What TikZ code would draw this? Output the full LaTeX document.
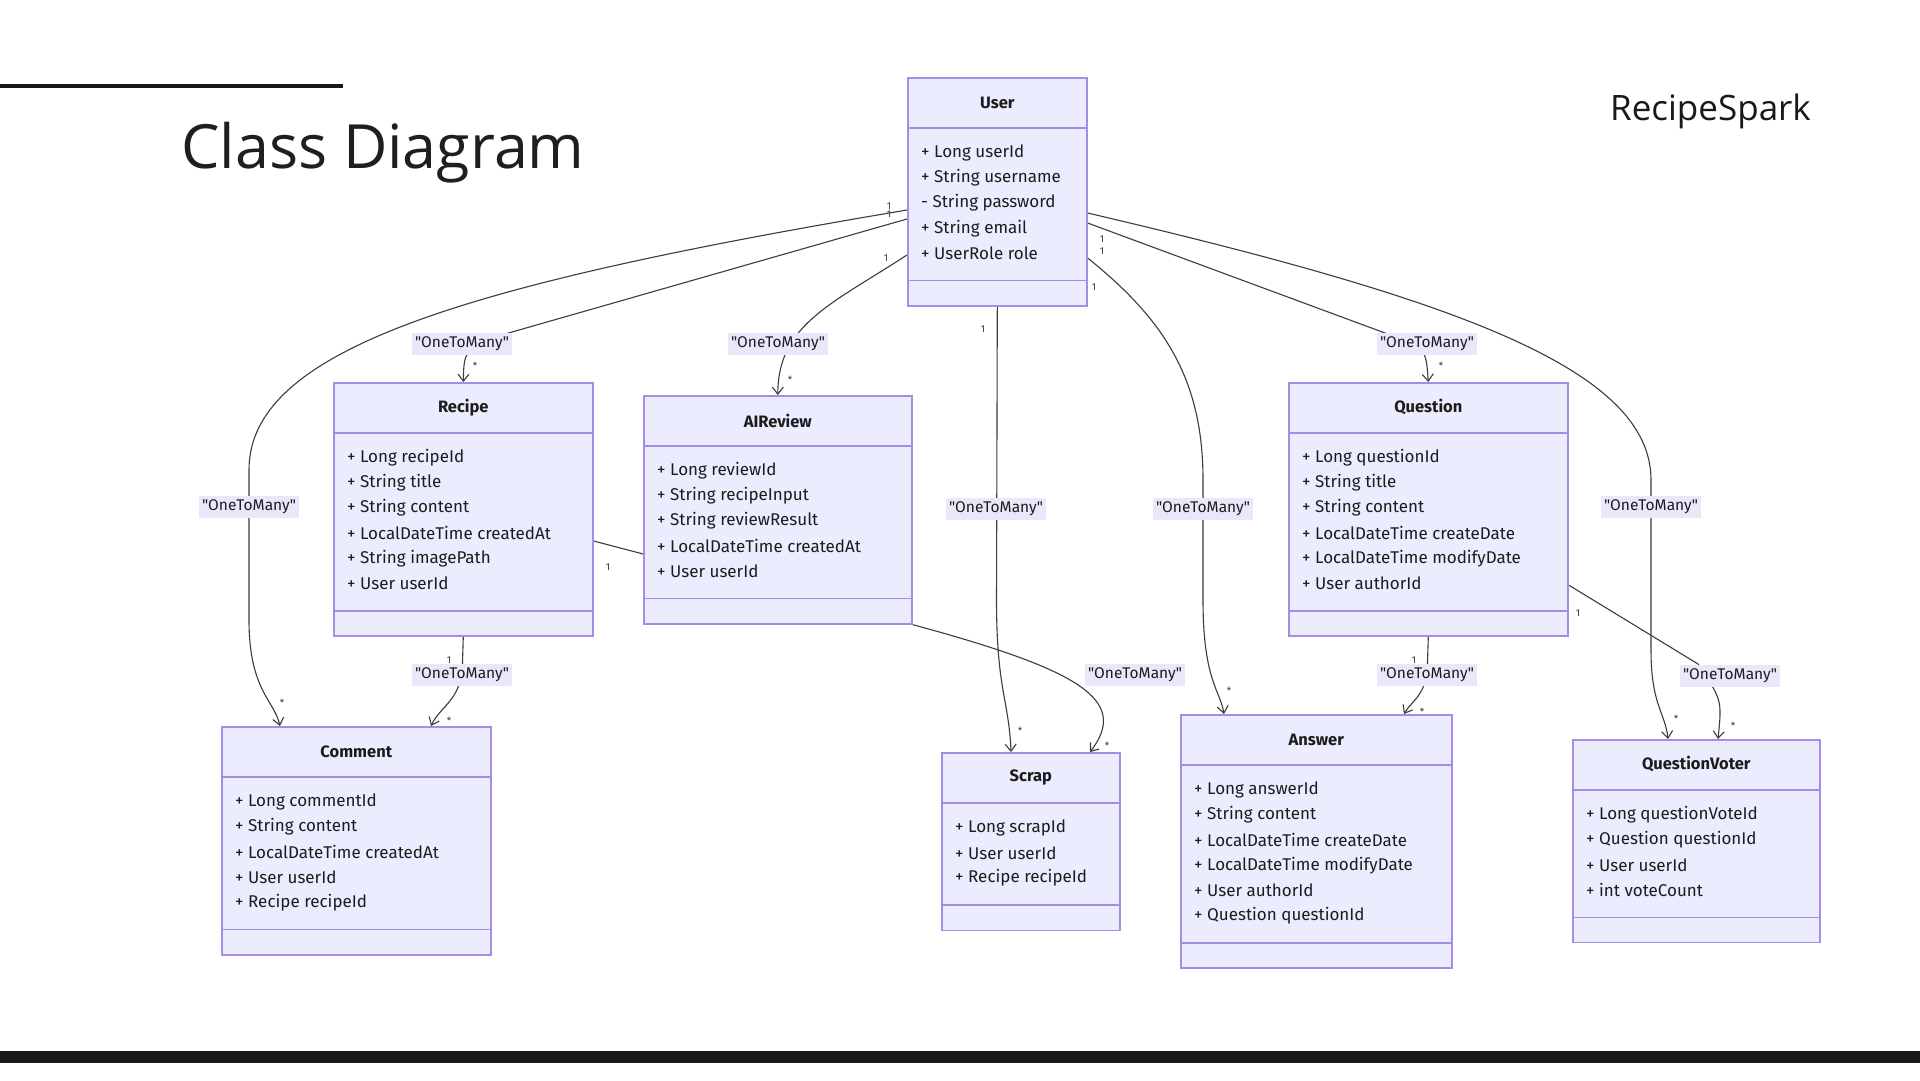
\documentclass[tikz,border=0pt]{standalone}
\usepackage{fontspec}
\setmainfont{Fira Sans}
\newfontfamily\relfont{Fira Sans}[Ligatures=TeXOff]
\newfontfamily\headfont{Open Sans}
\usetikzlibrary{arrows.meta,calc}

\definecolor{classfill}{RGB}{236,236,255}
\definecolor{classborder}{RGB}{165,140,228}
\definecolor{edgecol}{RGB}{60,60,60}
\definecolor{labelbg}{RGB}{232,232,250}
\definecolor{inkcol}{RGB}{28,28,28}

\pgfdeclarelayer{bg}
\pgfdeclarelayer{edges}
\pgfsetlayers{bg,edges,main}

\newcommand{\otm}{"OneToMany"}

\tikzset{
  classbox/.style={draw=classborder, fill=classfill, line width=1.6pt, inner sep=0pt, rectangle},
  classline/.style={draw=classborder, line width=1.6pt},
  classtitle/.style={font=\fontsize{16.5}{19}\selectfont\bfseries, text=inkcol},
  classfield/.style={anchor=west, inner sep=0pt, font=\fontsize{17}{20}\selectfont, text=inkcol},
  edge/.style={draw=edgecol, line width=1.1pt, -{Straight Barb[length=7pt,width=11pt,line width=1.1pt]}},
  rel/.style={fill=labelbg, text=inkcol, inner xsep=3pt, inner ysep=4pt, font=\relfont\fontsize{15.5}{18}\selectfont},
  mult/.style={text=edgecol, inner sep=0pt, font=\fontsize{10}{12}\selectfont}
}

% #1 name, #2 left, #3 top, #4 width, #5 number of fields, #6 title, #7 fields
\newcommand{\umlclass}[7]{%
  \pgfmathsetmacro{\boxh}{102+25.2*#5}%
  \node[classbox, minimum width=#4pt, minimum height=\boxh pt, anchor=north west] (#1) at (#2,#3) {};
  \draw[classline] ($(#1.north west)+(0,51)$) -- ($(#1.north east)+(0,51)$);
  \draw[classline] ($(#1.south west)+(0,-26)$) -- ($(#1.south east)+(0,-26)$);
  \node[classtitle] at ($(#1.north)+(0,25.5)$) {#6};
  \foreach \f [count=\k] in {#7} {
    \node[classfield] at ($(#1.north west)+(14,50.5+25.2*\k)$) {\f};
  }%
}

\begin{document}
\begin{tikzpicture}[x=1pt,y=-1pt]
\useasboundingbox (0,0) rectangle (1920,1080);
\begin{pgfonlayer}{bg}
  \fill[white] (0,0) rectangle (1920,1080);
\end{pgfonlayer}

% page decoration
\draw[line width=4.5pt, black!90] (0,86) -- (343,86);
\fill[black!90] (0,1051) rectangle (1920,1063);
\node[anchor=base west, inner sep=0pt, text=black!88, font=\headfont\fontsize{61}{70}\selectfont] (title) at (181,168) {Class Diagram};
\node[anchor=base west, inner sep=0pt, text=black!90, font=\headfont\fontsize{35}{40}\selectfont] (brand) at (1610,120) {RecipeSpark};

% classes
\umlclass{user}{907}{77}{179}{5}{User}{+ Long userId, + String username, - String password, + String email, + UserRole role}
\umlclass{recipe}{333}{382}{259}{6}{Recipe}{+ Long recipeId, + String title, + String content, + LocalDateTime createdAt, + String imagePath, + User userId}
\umlclass{aireview}{643}{395}{268}{5}{AIReview}{+ Long reviewId, + String recipeInput, + String reviewResult, + LocalDateTime createdAt, + User userId}
\umlclass{question}{1288}{382}{279}{6}{Question}{+ Long questionId, + String title, + String content, + LocalDateTime createDate, + LocalDateTime modifyDate, + User authorId}
\umlclass{comment}{221}{726}{269}{5}{Comment}{+ Long commentId, + String content, + LocalDateTime createdAt, + User userId, + Recipe recipeId}
\umlclass{scrap}{941}{752}{178}{3}{Scrap}{+ Long scrapId, + User userId, + Recipe recipeId}
\umlclass{answer}{1180}{714}{271}{6}{Answer}{+ Long answerId, + String content, + LocalDateTime createDate, + LocalDateTime modifyDate, + User authorId, + Question questionId}
\umlclass{qv}{1572}{739}{247}{4}{QuestionVoter}{+ Long questionVoteId, + Question questionId, + User userId, + int voteCount}

% associations (drawn beneath the class boxes)
\begin{pgfonlayer}{edges}
  \draw[edge] ($(user.north west)+(0,133)$) .. controls (460,285) and (249,350) .. (249,470) -- (249,620) .. controls (249,690) and (274,700) .. ($(comment.north west)+(59,0)$);
  \draw[edge] ($(user.north west)+(0,142)$) -- (505,334) .. controls (464,350) .. (recipe.north);
  \draw[edge] ($(user.north west)+(0,178)$) .. controls (830,305) and (778,325) .. (aireview.north);
  \draw[edge] (user.south) -- (996.5,600) .. controls (996.5,690) and (1009,700) .. ($(scrap.north west)+(70,0)$);
  \draw[edge] ($(user.north east)+(0,181)$) .. controls (1165,320) and (1203,380) .. (1203,480) -- (1203,600) .. controls (1203,680) and (1220,690) .. ($(answer.north west)+(44,0)$);
  \draw[edge] ($(user.north east)+(0,146)$) -- (1385,333) .. controls (1426,348) .. (question.north);
  \draw[edge] ($(user.north east)+(0,136)$) .. controls (1460,300) and (1651,370) .. (1651,480) -- (1651,650) .. controls (1651,705) and (1665,712) .. ($(qv.north west)+(96,0)$);
  \draw[edge] (recipe.south) -- (462.5,662) .. controls (462.5,700) and (440,706) .. ($(comment.north west)+(210,0)$);
  \draw[edge] ($(recipe.north east)+(0,159)$) -- (aireview.south east) .. controls (1080,670) and (1130,700) .. ($(scrap.north west)+(149,0)$);
  \draw[edge] (question.south) -- (1427.5,662) .. controls (1427.5,695) and (1412,700) .. ($(answer.north west)+(224,0)$);
  \draw[edge] ($(question.north east)+(0,203)$) -- (1698,664) .. controls (1722,700) .. ($(qv.north west)+(146,0)$);
\end{pgfonlayer}

% relation labels
\node[rel] (r1) at (249,507) {\otm};
\node[rel] (r2) at (462,344) {\otm};
\node[rel] (r3) at (778,344) {\otm};
\node[rel] (r4) at (996,509) {\otm};
\node[rel] (r5) at (1203,509) {\otm};
\node[rel] (r6) at (1427,344) {\otm};
\node[rel] (r7) at (1651,507) {\otm};
\node[rel] (r8) at (462,675) {\otm};
\node[rel] (r9) at (1135,675) {\otm};
\node[rel] (r10) at (1427,675) {\otm};
\node[rel] (r11) at (1730,676) {\otm};

% multiplicities
\node[mult] (m1) at (889,206) {1};
\node[mult] (m2) at (889,214) {1};
\node[mult] (m3) at (886,258) {1};
\node[mult] (m4) at (983,329) {1};
\node[mult] (m5) at (1102,239) {1};
\node[mult] (m6) at (1102,251) {1};
\node[mult] (m7) at (1094,287) {1};
\node[mult] (m8) at (449,660) {1};
\node[mult] (m9) at (608,567) {1};
\node[mult] (m10) at (1414,660) {1};
\node[mult] (m11) at (1578,613) {1};
\node[mult] (s1) at (475,366) {*};
\node[mult] (s2) at (790,380) {*};
\node[mult] (s3) at (1441,366) {*};
\node[mult] (s4) at (282,703) {*};
\node[mult] (s5) at (449,721) {*};
\node[mult] (s6) at (1020,731) {*};
\node[mult] (s7) at (1107,746) {*};
\node[mult] (s8) at (1229,691) {*};
\node[mult] (s9) at (1422,712) {*};
\node[mult] (s10) at (1676,719) {*};
\node[mult] (s11) at (1733,726) {*};
\end{tikzpicture}
\end{document}
